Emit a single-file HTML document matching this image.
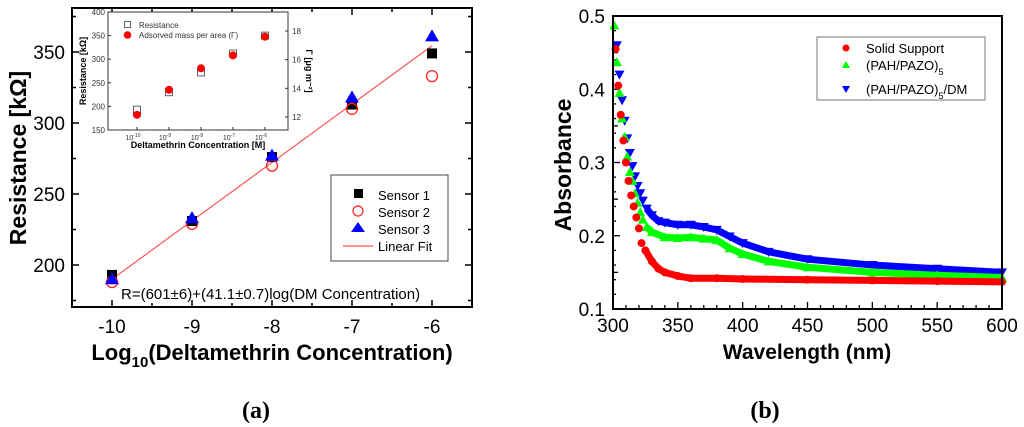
<!DOCTYPE html>
<html><head><meta charset="utf-8"><style>
html,body{margin:0;padding:0;background:#fff;}
svg{display:block;font-family:"Liberation Sans",Arial,sans-serif;}
</style></head><body>
<svg id="fig" width="1024" height="427" viewBox="0 0 1024 427"></svg>
<script>
// ---- Chart (a) data ----
const logConc = [-10, -9, -8, -7, -6];
const sensor1 = [193, 231, 276, 313, 349];
const sensor2 = [188, 229, 270, 310, 333];
const sensor3 = [190, 233, 277, 318, 361];
const fitIntercept = 601;
const fitSlope = 41.1;
const aXTicks = [-10, -9, -8, -7, -6];
const aYTicks = [200, 250, 300, 350];
// inset
const insetExp = [-10, -9, -8, -7, -6];
const insetRes = [193, 230, 272, 312, 350];
const insetGamma = [12.15, 13.9, 15.4, 16.3, 17.6];
const insetLTicks = [150, 200, 250, 300, 350, 400];
const insetRTicks = [12, 14, 16, 18];
// ---- Chart (b) data ----
const redX = [302,304,306,308,310,312,314,316,318,320,322,325,330,335,340,350,360,380,400,450,500,550,600];
const redY = [0.455,0.405,0.365,0.33,0.30,0.275,0.255,0.24,0.225,0.21,0.19,0.18,0.165,0.155,0.15,0.145,0.142,0.142,0.141,0.14,0.139,0.138,0.137];
const greenX = [301,303,305,307,309,311,313,315,317,319,321,323,326,330,340,350,360,370,380,390,400,420,450,500,550,600];
const greenY = [0.487,0.437,0.395,0.36,0.335,0.308,0.287,0.275,0.258,0.245,0.232,0.222,0.212,0.205,0.198,0.197,0.198,0.196,0.194,0.183,0.175,0.165,0.157,0.15,0.146,0.143];
const blueX = [303,305,307,309,311,313,315,317,319,321,323,326,330,335,340,350,360,370,380,390,400,420,450,500,550,600];
const blueY = [0.46,0.42,0.385,0.357,0.333,0.313,0.295,0.281,0.268,0.258,0.248,0.237,0.228,0.22,0.218,0.215,0.215,0.212,0.208,0.199,0.19,0.178,0.168,0.16,0.155,0.15];
const bXTicks = [300,350,400,450,500,550,600];
const bYTicks = [0.1,0.2,0.3,0.4,0.5];

const NS = "http://www.w3.org/2000/svg";
const svg = document.getElementById('fig');
function mk(tag, attrs, parent, text){
  const e = document.createElementNS(NS, tag);
  for (const k in attrs) e.setAttribute(k, attrs[k]);
  if (text !== undefined) e.textContent = text;
  (parent || svg).appendChild(e);
  return e;
}

// ===== Chart (a) =====
const aL=72,aR=472,aT=8,aB=307;
const ax = v => aL + (v + 10.5) / 5 * (aR - aL);
const ay = v => 265 - (v - 200) / 50 * 71;
const gA = mk('g', {});


const frameA = mk('rect', {x:aL,y:aT,width:aR-aL,height:aB-aT,fill:'none',stroke:'#000','stroke-width':2}, gA);


for (let v=-10.5; v<=-5.5+1e-9; v+=0.5){
  const major = Math.abs(v-Math.round(v))<1e-9;
  const len = major?7:4;
  mk('line',{x1:ax(v),x2:ax(v),y1:aB,y2:aB-len,stroke:'#000','stroke-width':1.5},gA);
  mk('line',{x1:ax(v),x2:ax(v),y1:aT,y2:aT+len,stroke:'#000','stroke-width':1.5},gA);
}
aXTicks.forEach(v=>{
  const t = mk('text',{x:ax(v),y:aB+26,'font-size':19,'text-anchor':'middle'},gA,String(v));
  
  
});
for (let v=175; v<=375; v+=25){
  const major = v%50===0;
  const len = major?7:4;
  if (ay(v)<aT||ay(v)>aB) continue;
  mk('line',{x1:aL,x2:aL+len,y1:ay(v),y2:ay(v),stroke:'#000','stroke-width':1.5},gA);
  mk('line',{x1:aR,x2:aR-len,y1:ay(v),y2:ay(v),stroke:'#000','stroke-width':1.5},gA);
}
aYTicks.forEach(v=>{
  const t = mk('text',{x:aL-7,y:ay(v)+7,'font-size':19,'text-anchor':'end'},gA,String(v));
  
  
});
const yTitleA = mk('text',{x:0,y:0,'font-size':23,'font-weight':'bold','text-anchor':'middle',transform:'translate(26,158) rotate(-90)'},gA,'Resistance [kΩ]');


const xTitleA = mk('text',{x:272,y:360,'font-size':22,'font-weight':'bold','text-anchor':'middle'},gA);


mk('tspan',{},xTitleA,'Log');
mk('tspan',{dy:7,'font-size':15},xTitleA,'10');
mk('tspan',{dy:-7},xTitleA,'(Deltamethrin Concentration)');
// fit line
const fit = mk('line',{x1:ax(-10),y1:ay(fitIntercept+fitSlope*-10),x2:ax(-6),y2:ay(fitIntercept+fitSlope*-6),stroke:'#f55','stroke-width':1.2},gA);


logConc.forEach((c,i)=>{
  const s = mk('rect',{x:ax(c)-5,y:ay(sensor1[i])-5,width:10,height:10,fill:'#000'},gA);
  
  
});
logConc.forEach((c,i)=>{
  const s = mk('circle',{cx:ax(c),cy:ay(sensor2[i]),r:5.5,fill:'none',stroke:'#f22','stroke-width':1.3},gA);
  
  
});
logConc.forEach((c,i)=>{
  const X=ax(c),Y=ay(sensor3[i]);
  const s = mk('polygon',{points:`${X},${Y-7} ${X-7},${Y+5} ${X+7},${Y+5}`,fill:'#00f'},gA);
  
  
});
// legend a
const legA = mk('g',{},gA);


mk('rect',{x:331,y:175,width:117,height:86,fill:'#fff',stroke:'#444','stroke-width':1},legA);
mk('rect',{x:354,y:189,width:9,height:9,fill:'#000'},legA);
mk('text',{x:378,y:200,'font-size':13},legA,'Sensor 1');
mk('circle',{cx:358,cy:211,r:5,fill:'none',stroke:'#f22','stroke-width':1.2},legA);
mk('text',{x:378,y:217,'font-size':13},legA,'Sensor 2');
mk('polygon',{points:'358,222 351,232 365,232',fill:'#00f'},legA);
mk('text',{x:378,y:234,'font-size':13},legA,'Sensor 3');
mk('line',{x1:343,x2:373,y1:246,y2:246,stroke:'#f55','stroke-width':1.2},legA);
mk('text',{x:378,y:251,'font-size':13},legA,'Linear Fit');
const eq = mk('text',{x:121,y:299,'font-size':15},gA,'R=(601±6)+(41.1±0.7)log(DM Concentration)');



// inset
const iL=108,iR=288,iT=12,iB=130;
const ix = e => 137 + (e + 10) * 32;
const iyL = v => iB - (v - 150) / 250 * (iB - iT);
const iyR = v => 117 - (v - 12) / 6 * 86;
const gI = mk('g',{},gA);


mk('rect',{x:iL,y:iT,width:iR-iL,height:iB-iT,fill:'#fff',stroke:'#333','stroke-width':1},gI);
insetLTicks.forEach(v=>{
  mk('line',{x1:iL,x2:iL+3,y1:iyL(v),y2:iyL(v),stroke:'#333'},gI);
  mk('text',{x:iL-3,y:iyL(v)+3,'font-size':8,'text-anchor':'end',fill:'#333'},gI,String(v));
});
insetRTicks.forEach(v=>{
  mk('line',{x1:iR,x2:iR-3,y1:iyR(v),y2:iyR(v),stroke:'#333'},gI);
  mk('text',{x:iR+4,y:iyR(v)+3,'font-size':8,fill:'#333'},gI,String(v));
});
insetExp.forEach(e=>{
  mk('line',{x1:ix(e),x2:ix(e),y1:iB,y2:iB-3,stroke:'#333'},gI);
  const t = mk('text',{x:ix(e)-4,y:iB+10,'font-size':7,'text-anchor':'middle',fill:'#333'},gI,'10');
  mk('tspan',{dy:-3,'font-size':5},t,String(e));
});
mk('text',{x:0,y:0,'font-size':9,'font-weight':'bold','text-anchor':'middle',transform:`translate(${iL-22},${(iT+iB)/2}) rotate(-90)`},gI,'Resistance [kΩ]');
mk('text',{x:0,y:0,'font-size':9,'font-weight':'bold','text-anchor':'middle',transform:`translate(${iR+18},${(iT+iB)/2}) rotate(90)`},gI,'Γ [μg m⁻²]');
mk('text',{x:(iL+iR)/2,y:iB+18,'font-size':9,'font-weight':'bold','text-anchor':'middle'},gI,'Deltamethrin Concentration [M]');
insetExp.forEach((e,i)=>{
  const s = mk('rect',{x:ix(e)-3.5,y:iyL(insetRes[i])-3.5,width:7,height:7,fill:'#fff',stroke:'#555','stroke-width':0.9},gI);
  
  
});
insetExp.forEach((e,i)=>{
  const s = mk('circle',{cx:ix(e),cy:iyR(insetGamma[i]),r:4,fill:'#f00'},gI);
  
  
});
mk('rect',{x:124.5,y:21.5,width:6,height:6,fill:'#fff',stroke:'#555','stroke-width':0.9},gI);
mk('text',{x:139,y:28,'font-size':8,fill:'#333'},gI,'Resistance');
mk('circle',{cx:127.5,cy:35,r:3.8,fill:'#f00'},gI);
mk('text',{x:139,y:38,'font-size':8,fill:'#333'},gI,'Adsorved mass per area (Γ)');

const la = mk('text',{x:256,y:418,'font-size':24,'font-weight':'bold','font-family':'"Liberation Serif",serif','text-anchor':'middle'},svg,'(a)');



// ===== Chart (b) =====
const bL=613,bR=1002,bT=16,bB=309;
const bx = v => bL + (v - 300) / 300 * (bR - bL);
const by = v => bB - (v - 0.1) / 0.4 * (bB - bT);
const gB = mk('g',{});


for (let v=300; v<=600; v+=10){
  const len = v%50===0?7:4;
  mk('line',{x1:bx(v),x2:bx(v),y1:bB,y2:bB-len,stroke:'#000','stroke-width':1.3},gB);
}
for (let k=0; k<=40; k++){
  const v = 0.1 + k*0.01;
  const len = k%10===0?7:(k%5===0?5:3);
  if (k%2 && k%5) continue;
  mk('line',{x1:bL,x2:bL+len,y1:by(v),y2:by(v),stroke:'#000','stroke-width':1.3},gB);
}
bXTicks.forEach(v=>{
  const t = mk('text',{x:bx(v),y:bB+23,'font-size':19,'text-anchor':'middle'},gB,String(v));
  
  
});
bYTicks.forEach(v=>{
  const t = mk('text',{x:bL-8,y:by(v)+7,'font-size':19,'text-anchor':'end'},gB,v.toFixed(1));
  
  
});
const ytb = mk('text',{x:0,y:0,'font-size':23,'font-weight':'bold','text-anchor':'middle',transform:'translate(571,165) rotate(-90)'},gB,'Absorbance');


const xtb = mk('text',{x:807,y:359,'font-size':21,'font-weight':'bold','text-anchor':'middle'},gB,'Wavelength (nm)');



function series(xs, ys, color, shape, name){
  const g = mk('g',{},gB);
  
  
  const pts = [];
  xs.forEach((x,i)=>{ if (x>=324) pts.push(bx(x)+','+by(ys[i])); });
  mk('polyline',{points:pts.join(' '),fill:'none',stroke:color,'stroke-width':7,'stroke-linejoin':'round'},g);
  xs.forEach((x,i)=>{
    const X=bx(x),Y=by(ys[i]);
    let m;
    if (shape==='c') m = mk('circle',{cx:X,cy:Y,r:4,fill:color},g);
    else if (shape==='u') m = mk('polygon',{points:`${X},${Y-5} ${X-5},${Y+4} ${X+5},${Y+4}`,fill:color},g);
    else m = mk('polygon',{points:`${X},${Y+5} ${X-5},${Y-4} ${X+5},${Y-4}`,fill:color},g);
    
    
  });
}
series(blueX, blueY, '#00f', 'd', 'series-pah-pazo-dm');
series(greenX, greenY, '#0f0', 'u', 'series-pah-pazo');
series(redX, redY, '#f00', 'c', 'series-solid-support');
mk('rect',{x:bL,y:bT,width:bR-bL,height:bB-bT,fill:'none',stroke:'#000','stroke-width':2},gB);

const legB = mk('g',{},gB);


mk('rect',{x:817,y:37,width:168,height:63,fill:'#fff',stroke:'#777','stroke-width':1},legB);
mk('circle',{cx:846,cy:48,r:3.5,fill:'#f00'},legB);
mk('text',{x:866,y:53,'font-size':13},legB,'Solid Support');
mk('polygon',{points:'846,61 842,68 850,68',fill:'#0f0'},legB);
const tg = mk('text',{x:866,y:70,'font-size':13},legB,'(PAH/PAZO)');
mk('tspan',{dy:5,'font-size':9},tg,'5');
mk('polygon',{points:'846,93 842,86 850,86',fill:'#00f'},legB);
const tb = mk('text',{x:866,y:94,'font-size':13},legB,'(PAH/PAZO)');
mk('tspan',{dy:5,'font-size':9},tb,'5');
mk('tspan',{dy:-5},tb,'/DM');

const lb = mk('text',{x:765,y:418,'font-size':24,'font-weight':'bold','font-family':'"Liberation Serif",serif','text-anchor':'middle'},svg,'(b)');


</script>
</body></html>
